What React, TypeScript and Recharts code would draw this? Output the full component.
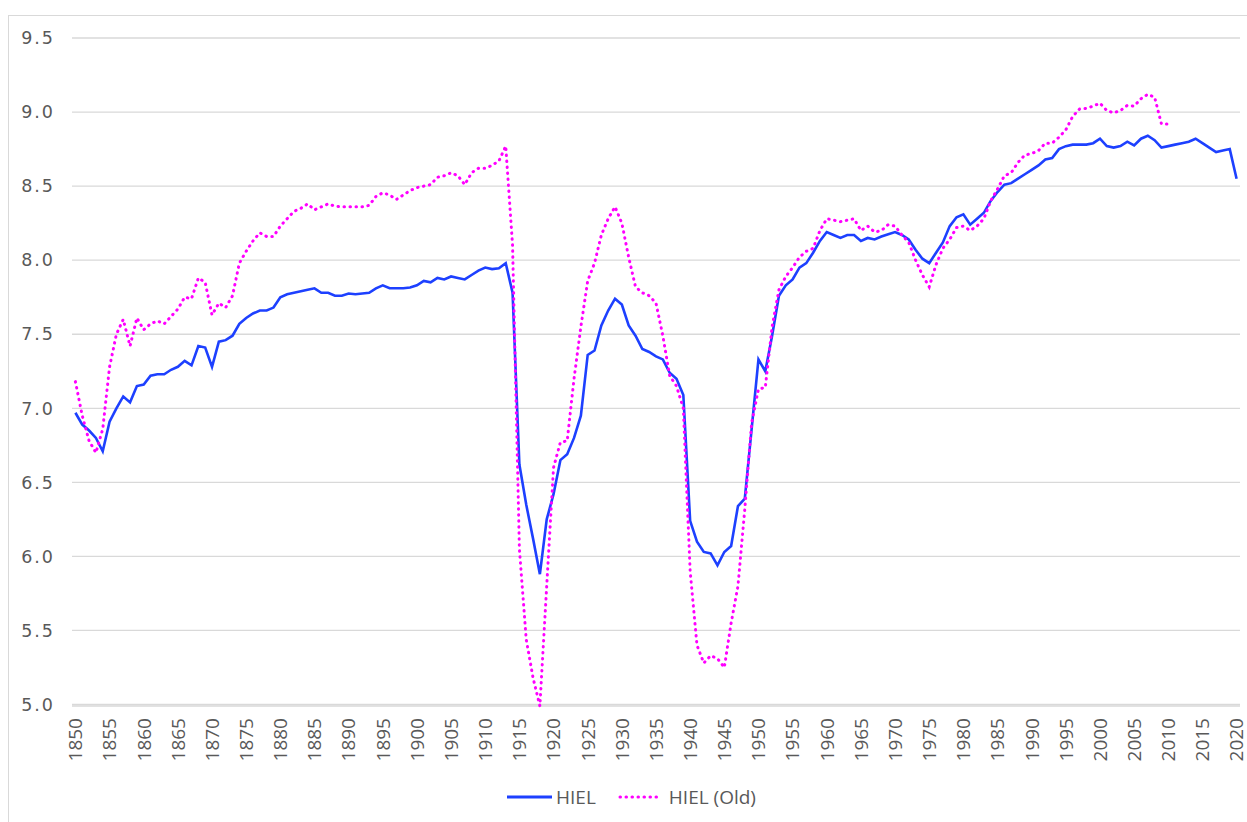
import React from 'react';
import { LineChart, Line, XAxis, YAxis, CartesianGrid, Legend } from 'recharts';

const firstYear = 1850;

// HIEL, 1850 - 2020
const hiel = [
  6.97, 6.89, 6.85, 6.8, 6.71, 6.91, 7.0, 7.08, 7.04, 7.15,
  7.16, 7.22, 7.23, 7.23, 7.26, 7.28, 7.32, 7.29, 7.42, 7.41,
  7.28, 7.45, 7.46, 7.49, 7.57, 7.61, 7.64, 7.66, 7.66, 7.68,
  7.75, 7.77, 7.78, 7.79, 7.8, 7.81, 7.78, 7.78, 7.76, 7.76,
  7.775, 7.77, 7.775, 7.78, 7.81, 7.83, 7.81, 7.81, 7.81, 7.815,
  7.83, 7.86, 7.85, 7.88, 7.87, 7.89, 7.88, 7.87, 7.9, 7.93,
  7.95, 7.94, 7.945, 7.98, 7.78, 6.62, 6.35, 6.12, 5.88, 6.25,
  6.42, 6.65, 6.69, 6.8, 6.95, 7.36, 7.39, 7.56, 7.66, 7.74,
  7.7, 7.56, 7.49, 7.4, 7.38, 7.35, 7.33, 7.24, 7.2, 7.09,
  6.24, 6.1, 6.03, 6.02, 5.94, 6.03, 6.07, 6.34, 6.39, 6.86,
  7.33, 7.25, 7.49, 7.76, 7.83, 7.87, 7.95, 7.98, 8.05, 8.13,
  8.19, 8.17, 8.15, 8.17, 8.17, 8.13, 8.15, 8.14, 8.16, 8.175,
  8.19, 8.17, 8.14, 8.07, 8.01, 7.98, 8.05, 8.12, 8.23, 8.29,
  8.31, 8.24, 8.28, 8.32, 8.4, 8.46, 8.51, 8.52, 8.55, 8.58,
  8.61, 8.64, 8.68, 8.69, 8.75, 8.77, 8.78, 8.78, 8.78, 8.79,
  8.82, 8.77, 8.76, 8.77, 8.8, 8.775, 8.82, 8.84, 8.81, 8.76,
  8.77, 8.78, 8.79, 8.8, 8.82, 8.79, 8.76, 8.73, 8.74, 8.75,
  8.55,
];

// HIEL (Old), 1850 - 2010
const hielOld = [
  7.18, 6.95, 6.78, 6.7, 6.86, 7.28, 7.5, 7.6, 7.42, 7.61,
  7.53, 7.57, 7.59, 7.57, 7.62, 7.67, 7.75, 7.74, 7.88, 7.85,
  7.63, 7.71, 7.68, 7.76, 7.98, 8.06, 8.13, 8.185, 8.16, 8.16,
  8.23, 8.28, 8.33, 8.35, 8.38, 8.34, 8.36, 8.38, 8.365, 8.36,
  8.36, 8.36, 8.36, 8.37, 8.43, 8.455, 8.44, 8.41, 8.44, 8.47,
  8.49, 8.5, 8.51, 8.56, 8.57, 8.59, 8.57, 8.51, 8.59, 8.62,
  8.62, 8.64, 8.67, 8.77, 8.1, 6.05, 5.44, 5.18, 4.99, 5.8,
  6.6, 6.77, 6.78, 7.2, 7.55, 7.86, 7.98, 8.17, 8.28, 8.36,
  8.25, 8.02, 7.82, 7.78, 7.76, 7.71, 7.49, 7.22, 7.15, 7.0,
  5.9, 5.4, 5.28, 5.33, 5.31, 5.25, 5.55, 5.8, 6.32, 6.9,
  7.13, 7.14, 7.55, 7.8, 7.89, 7.95, 8.02, 8.06, 8.08, 8.2,
  8.28, 8.27, 8.26, 8.27, 8.28, 8.2, 8.23, 8.19, 8.2, 8.24,
  8.23, 8.17, 8.12, 8.0, 7.9, 7.82, 7.97, 8.08, 8.14, 8.22,
  8.23, 8.2, 8.23, 8.28, 8.4, 8.48, 8.57, 8.59, 8.66, 8.71,
  8.72, 8.74, 8.79, 8.79, 8.83, 8.88, 8.97, 9.02, 9.025, 9.04,
  9.06, 9.01, 8.995, 9.01, 9.045, 9.04, 9.09, 9.12, 9.1, 8.92,
  8.92,
];

const yTicks = [5.0, 5.5, 6.0, 6.5, 7.0, 7.5, 8.0, 8.5, 9.0, 9.5];
const xTicks = [
  1850, 1855, 1860, 1865, 1870, 1875, 1880, 1885, 1890, 1895, 1900, 1905,
  1910, 1915, 1920, 1925, 1930, 1935, 1940, 1945, 1950, 1955, 1960, 1965,
  1970, 1975, 1980, 1985, 1990, 1995, 2000, 2005, 2010, 2015, 2020,
];

const data = hiel.map((v, i) => ({
  year: firstYear + i,
  hiel: v,
  hielOld: i < hielOld.length ? hielOld[i] : null,
}));

const BLUE = '#1d40ff';
const MAGENTA = '#ff00ff';
const TEXT = '#595959';

const YearTick = (props: any) => {
  const { x, y, payload } = props;
  return (
    <g transform={`translate(${x},${y})`}>
      <text
        x={0}
        y={0}
        dy="0.36em"
        textAnchor="end"
        transform="rotate(-90)"
        fill={TEXT}
        fontSize={19}
        fontFamily="'Open Sans', sans-serif"
      >
        {payload.value}
      </text>
    </g>
  );
};

const LegendBox = () => (
  <div
    style={{
      display: 'flex',
      justifyContent: 'center',
      alignItems: 'center',
      height: 30,
      paddingLeft: 14,
      fontFamily: "'Open Sans', sans-serif",
      fontSize: 19,
      color: TEXT,
    }}
  >
    <svg width={45} height={10}>
      <line x1={0} y1={5} x2={45} y2={5} stroke={BLUE} strokeWidth={3} />
    </svg>
    <span style={{ marginLeft: 4 }}>HIEL</span>
    <svg width={44} height={10} style={{ marginLeft: 22 }}>
      <line
        x1={2}
        y1={5}
        x2={44}
        y2={5}
        stroke={MAGENTA}
        strokeWidth={3}
        strokeDasharray="0.5 5.5"
        strokeLinecap="round"
      />
    </svg>
    <span style={{ marginLeft: 7 }}>HIEL (Old)</span>
  </div>
);

const App: React.FC = () => {
  return (
    <>
      <style>{'body { margin: 0; overflow: hidden; }'}</style>
      <div
        style={{
          position: 'absolute',
          left: 8,
          top: 15,
          width: 1238,
          height: 806,
          borderTop: '1px solid #d9d9d9',
          borderLeft: '1px solid #d9d9d9',
          background: '#fff',
        }}
      >
        <LineChart width={1238} height={806} data={data} margin={{ top: 22, right: 7, left: 0, bottom: 10 }}>
          <CartesianGrid vertical={false} stroke="#d9d9d9" strokeWidth={1.3} />
          <XAxis
            dataKey="year"
            type="number"
            domain={[1849.5, 2020.5]}
            ticks={xTicks}
            interval={0}
            tick={<YearTick />}
            tickLine={false}
            axisLine={false}
            tickSize={0}
            tickMargin={12}
            height={76}
          />
          <YAxis
            domain={[5, 9.5]}
            ticks={yTicks}
            interval={0}
            width={63}
            tickLine={false}
            axisLine={false}
            tickSize={0}
            tickMargin={17}
            tickFormatter={(v: number) => v.toFixed(1)}
            tick={{ fill: TEXT, fontSize: 17.5, fontFamily: "'DejaVu Sans', sans-serif", letterSpacing: 2 }}
          />
          <Legend verticalAlign="bottom" content={<LegendBox />} wrapperStyle={{ height: 30 }} />
          <Line
            type="linear"
            dataKey="hiel"
            name="HIEL"
            stroke={BLUE}
            strokeWidth={2.6}
            dot={false}
            isAnimationActive={false}
          />
          <Line
            type="linear"
            dataKey="hielOld"
            name="HIEL (Old)"
            stroke={MAGENTA}
            strokeWidth={3}
            strokeDasharray="0.5 5.5"
            strokeLinecap="round"
            dot={false}
            isAnimationActive={false}
          />
        </LineChart>
      </div>
    </>
  );
};

export default App;
